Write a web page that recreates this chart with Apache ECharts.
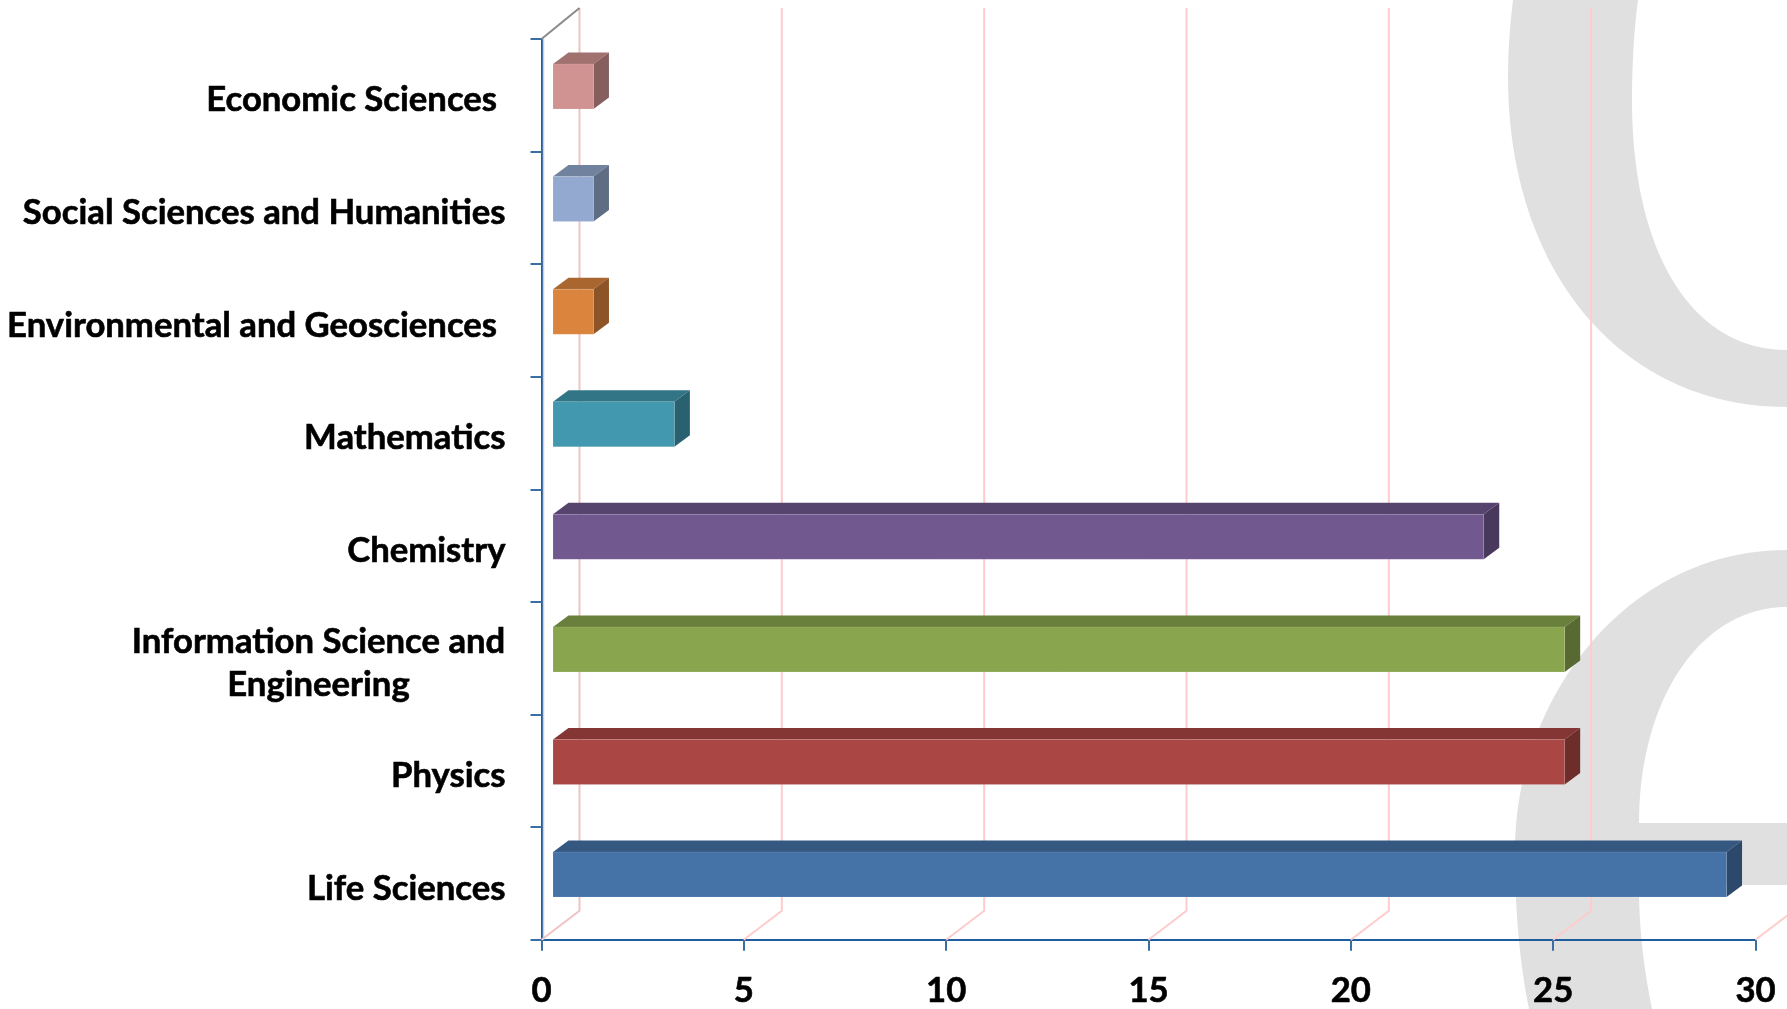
<!DOCTYPE html>
<html>
<head>
<meta charset="utf-8">
<script src="https://cdn.jsdelivr.net/npm/echarts@6/dist/echarts.min.js"></script>
<style>
  html, body { margin: 0; padding: 0; background: #fff; }
  #chart { width: 1787px; height: 1009px; }
</style>
</head>
<body>
<div id="chart"></div>
<script>
// Publications per research field, listed from the bottom of the axis upwards.
const categories = [
  'Life Sciences',
  'Physics',
  'Information Science and\nEngineering',
  'Chemistry',
  'Mathematics',
  'Environmental and Geosciences ',
  'Social Sciences and Humanities',
  'Economic Sciences '
];
const values = [29, 25, 25, 23, 3, 1, 1, 1];
const barColors = ['#4572a7', '#aa4643', '#89a54e', '#71588f', '#4198af', '#db843d', '#93a9cf', '#d19392'];
const xTicks = [0, 5, 10, 15, 20, 25, 30];

// Pseudo-3D depth of the chart box and of the bars standing inside it.
const WALL_DX = 38, WALL_DY = -29, WALL_OVERSHOOT = -2;
const BAR_DX = 11.5, BAR_DY = -8.8, BAR_DEPTH_X = 15.5, BAR_DEPTH_Y = -11.5, BAR_BAND = 0.4;

function shade(hex, k) {
  const n = parseInt(hex.slice(1), 16);
  const c = s => Math.round(((n >> s) & 255) * k);
  return `rgb(${c(16)},${c(8)},${c(0)})`;
}

// Samples one cubic Bezier segment into a list of points.
function bezier(p0, c1, c2, p3) {
  const out = [];
  for (let s = 0; s <= 48; s++) {
    const t = s / 48, u = 1 - t;
    out.push([0, 1].map(k => u * u * u * p0[k] + 3 * u * u * t * c1[k] + 3 * u * t * t * c2[k] + t * t * t * p3[k]));
  }
  return out;
}

// Outline of the pale logo behind the plot, assembled from Bezier segments.
const logoUpper = [].concat(
  bezier([1513, 0], [1510, 25], [1508, 50], [1508, 77]),
  bezier([1508, 77], [1508, 270], [1620, 407], [1787, 407]),
  [[1787, 350]],
  bezier([1787, 350], [1690, 350], [1632, 250], [1632, 100]),
  bezier([1632, 100], [1632, 65], [1634, 30], [1638, 0])
);
const logoLower = [].concat(
  [[1787, 550]],
  bezier([1787, 550], [1625, 550], [1515, 700], [1515, 850]),
  bezier([1515, 850], [1515, 900], [1518, 955], [1529, 1009]),
  [[1652, 1009]],
  bezier([1652, 1009], [1644, 970], [1639, 930], [1639, 885]),
  [[1787, 885], [1787, 823], [1639, 823]],
  bezier([1639, 823], [1639, 700], [1700, 607], [1787, 607])
);

function wallGrid(params, api) {
  const box = params.coordSys;
  const x = api.coord([api.value(0), 0])[0];
  const bottom = box.y + box.height, top = box.y;
  const first = api.value(0) === 0;
  const children = [{
    type: 'polyline',
    shape: { points: [[x, bottom], [x + WALL_DX, bottom + WALL_DY], [x + WALL_DX, top + WALL_DY + WALL_OVERSHOOT]] },
    style: { fill: null, stroke: first ? '#eec4c4' : '#ffcccc', lineWidth: 2 }
  }];
  if (first) {
    children.push({
      type: 'line',
      shape: { x1: x, y1: top, x2: x + WALL_DX, y2: top + WALL_DY + WALL_OVERSHOOT },
      style: { stroke: '#8a8a8a', lineWidth: 2 }
    }, {
      type: 'line',
      shape: { x1: x + 2, y1: top, x2: x + 2, y2: bottom },
      style: { stroke: '#cfcfcf', lineWidth: 1.5 }
    });
  }
  return { type: 'group', children };
}

function bar3d(params, api) {
  const idx = api.value(0);
  const start = api.coord([0, idx]);
  const end = api.coord([api.value(1), idx]);
  const h = api.size([0, 1])[1] * BAR_BAND;
  const x0 = start[0] + BAR_DX, x1 = end[0] + BAR_DX;
  const y0 = start[1] + BAR_DY - h / 2, y1 = y0 + h;
  const color = barColors[idx];
  const dx = BAR_DEPTH_X, dy = BAR_DEPTH_Y;
  return {
    type: 'group',
    children: [
      { type: 'polygon', shape: { points: [[x0, y0], [x1, y0], [x1 + dx, y0 + dy], [x0 + dx, y0 + dy]] },
        style: { fill: shade(color, 0.77) } },
      { type: 'polygon', shape: { points: [[x1, y0], [x1 + dx, y0 + dy], [x1 + dx, y1 + dy], [x1, y1]] },
        style: { fill: shade(color, 0.64) } },
      { type: 'rect', shape: { x: x0, y: y0, width: x1 - x0, height: h },
        style: { fill: color, stroke: 'rgba(255,255,255,0.12)', lineWidth: 1 } }
    ]
  };
}

const labelFont = {
  fontFamily: 'Lato', fontWeight: 'bold', fontSize: 34.7, color: '#000',
  textBorderColor: '#000', textBorderWidth: 0.6
};
const axisBlue = '#1f5d9c';

const chart = echarts.init(document.getElementById('chart'), null, { renderer: 'canvas' });
chart.setOption({
  animation: false,
  backgroundColor: '#fff',
  graphic: [
    { type: 'polygon', z: -10, silent: true, shape: { points: logoUpper }, style: { fill: '#e0e0e0' } },
    { type: 'polygon', z: -10, silent: true, shape: { points: logoLower }, style: { fill: '#e0e0e0' } }
  ],
  grid: { left: 541.5, top: 39, right: 31.5, bottom: 67, containLabel: false },
  xAxis: {
    type: 'value', min: 0, max: 30, interval: 5,
    splitLine: { show: false },
    axisLine: { show: true, lineStyle: { color: axisBlue, width: 2 } },
    axisTick: { show: true, length: 11, lineStyle: { color: '#3a6ea5', width: 2 } },
    axisLabel: { ...labelFont, margin: 34, showMinLabel: true, showMaxLabel: true }
  },
  yAxis: {
    type: 'category', data: categories,
    axisLine: { show: true, lineStyle: { color: axisBlue, width: 2 } },
    axisTick: { show: true, length: 11, alignWithLabel: false, lineStyle: { color: '#3a6ea5', width: 2 } },
    axisLabel: {
      ...labelFont, margin: 36, align: 'right', padding: [10, 0, 0, 0], lineHeight: 43,
      interval: 0, hideOverlap: false,
      formatter: v => {
        if (v.indexOf('\n') < 0) return v;
        return v.split('\n').map(line => `{block|${line}}`).join('\n');
      },
      rich: { block: { ...labelFont, lineHeight: 43, width: 374, align: 'center' } }
    }
  },
  series: [
    { type: 'custom', renderItem: wallGrid, silent: true, z: 1, clip: false,
      encode: { x: 0, y: 1 }, data: xTicks.map(v => [v, 0]) },
    { type: 'custom', renderItem: bar3d, silent: true, z: 3, clip: false,
      encode: { x: 1, y: 0 }, data: values.map((v, i) => [i, v]) }
  ]
});
</script>
</body>
</html>
